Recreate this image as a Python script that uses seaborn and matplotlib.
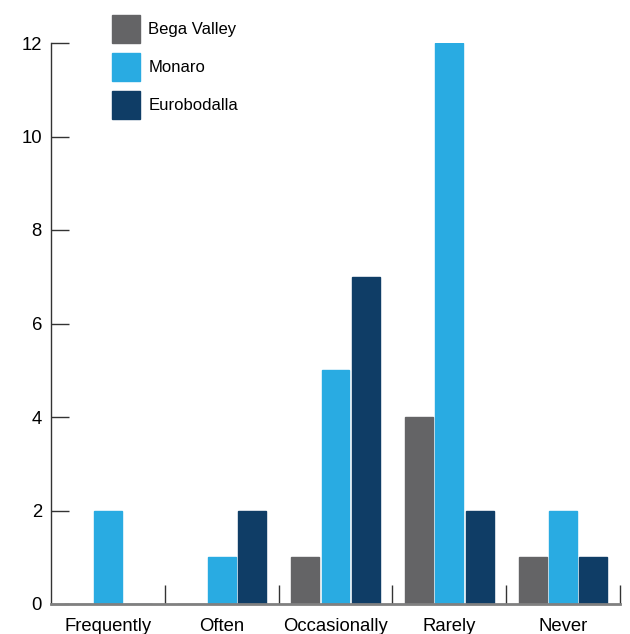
import pandas as pd
import seaborn as sns
import matplotlib.pyplot as plt
from matplotlib.ticker import FixedLocator

categories = ["Frequently", "Often", "Occasionally", "Rarely", "Never"]
regions = ["Bega Valley", "Monaro", "Eurobodalla"]
bega_valley = [0, 0, 1, 4, 1]
monaro = [2, 1, 5, 12, 2]
eurobodalla = [0, 2, 7, 2, 1]
colors = ["#646466", "#29abe2", "#0f3d66"]

df = pd.DataFrame({
    "category": categories * 3,
    "region": [r for r in regions for _ in categories],
    "count": bega_valley + monaro + eurobodalla,
})

sns.set_style("white")
plt.rcParams["font.family"] = ["Liberation Sans", "DejaVu Sans"]

fig = plt.figure(figsize=(6.3, 6.34), dpi=100)
ax = fig.add_axes([51 / 630, 30 / 634, 569 / 630, 561 / 634])

sns.barplot(data=df, x="category", y="count", hue="region", order=categories,
            hue_order=regions, palette=colors, width=0.8, gap=0.08,
            linewidth=0, saturation=1, ax=ax, legend=False)

# zero-height bars still show as a thin line in their colour
for p in ax.patches:
    p.set_edgecolor(p.get_facecolor())
    p.set_linewidth(1)

ax.set_xlim(-0.5, 4.5)
ax.set_ylim(0, 12)
ax.set_yticks(range(0, 13, 2))
ax.set_xlabel("")
ax.set_ylabel("")

for s in ["top", "right"]:
    ax.spines[s].set_visible(False)
ax.spines["left"].set_color("#333333")
ax.spines["left"].set_linewidth(1)
ax.spines["bottom"].set_color("#808080")
ax.spines["bottom"].set_linewidth(2)

ax.tick_params(axis="y", direction="in", length=13, width=1, color="#333333",
               labelsize=13.3, labelcolor="black", pad=6.5, left=True)
ax.tick_params(axis="x", which="major", length=0, labelsize=13.3,
               labelcolor="black", pad=10)
ax.xaxis.set_minor_locator(FixedLocator([0.5, 1.5, 2.5, 3.5, 4.5]))
ax.tick_params(axis="x", which="minor", direction="in", length=14, width=1,
               color="#333333", bottom=True)

handles = [plt.Rectangle((0, 0), 1, 1, color=c) for c in colors]
fig.legend(handles, regions, loc="upper left", bbox_to_anchor=(97 / 630, 1),
           frameon=False, fontsize=12, handlelength=1.68, handleheight=2.2,
           labelspacing=0.6, handletextpad=0.5, borderpad=0.4,
           labelcolor="black")

fig.savefig("out.png", dpi=100)
